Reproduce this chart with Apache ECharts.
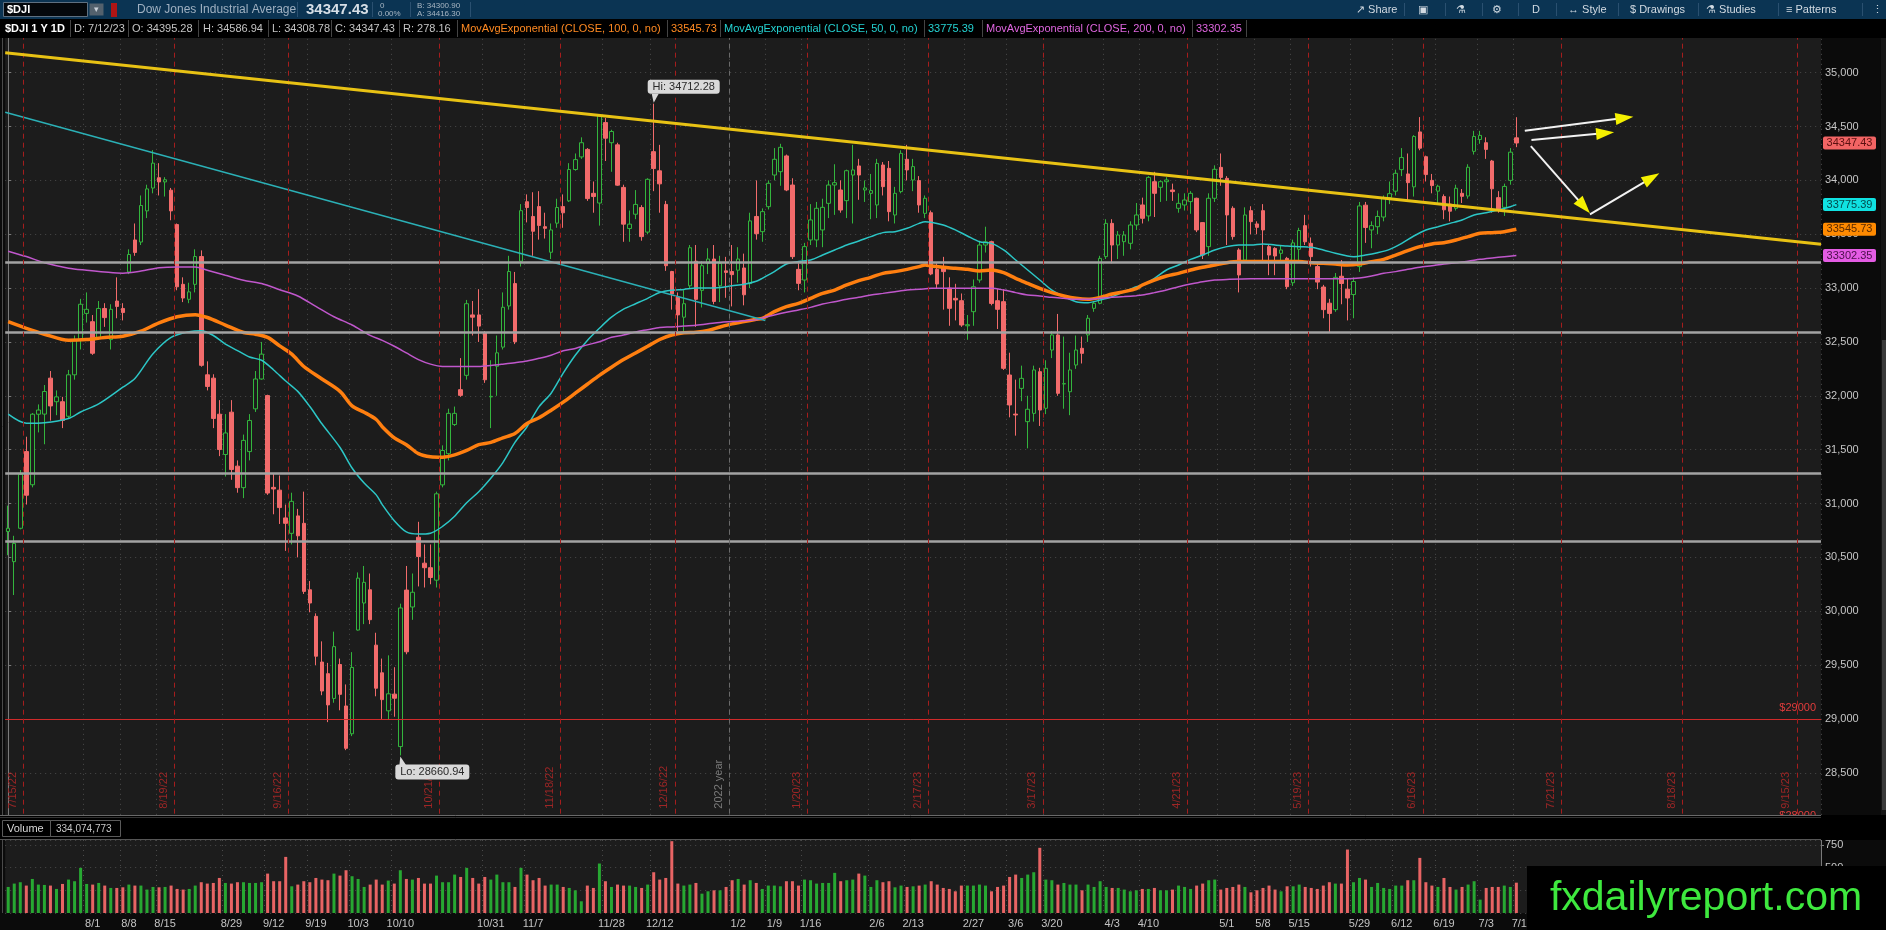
<!DOCTYPE html>
<html>
<head>
<meta charset="utf-8">
<title>$DJI 1 Y 1D</title>
<script src="https://cdn.jsdelivr.net/npm/echarts@6/dist/echarts.min.js"></script>
<style>
html, body { margin: 0; padding: 0; background: #0b0b0b; }
#chart { width: 1886px; height: 930px; }
</style>
</head>
<body>
<div id="chart"></div>
<script>
// daily candles 7/13/22 .. 7/12/23
var opens = [30740,30460,30770,31482,31174,31829,31830,32164,31945,31945,
31810,32195,32523,32765,32688,32541,32811,32522,32880,32811,
33150,33447,33428,33717,33929,34025,33986,33909,33590,33035,
32896,33035,33293,32195,32164,31829,31455,31848,31347,31147,
31482,31879,32156,32002,31150,31124,30866,30723,30885,30816,
30199,29952,29528,29420,29190,29505,29120,28862,29825,30076,
30199,29685,29428,29075,29230,28743,30196,30039,30687,30446,
30404,30288,31173,31463,31733,32057,32190,32751,32751,32585,
31990,32274,32452,32834,33042,33250,33802,33665,33757,33570,
33333,33603,33757,33810,34101,34218,34288,33880,33790,34537,
34350,34330,33935,33553,33686,33748,33520,34267,34089,33777,
33154,32917,32730,33021,33250,32979,33229,33270,33021,33160,
33154,33166,33187,33042,33665,33524,33756,34050,34081,34227,
33957,33174,33075,33447,33447,33540,33787,33957,33911,33812,
34050,34134,33911,33880,33772,34143,34112,33679,33896,34196,
34004,33998,33694,33700,33174,33199,33000,32905,32883,32650,
32781,33075,33400,33431,32883,32874,32193,31830,32069,31760,
31837,32224,31884,32425,32565,32110,32038,32286,32441,32565,
32812,32859,33292,33601,33400,33431,33416,33586,33772,33670,
33988,33936,33988,33911,33741,33772,33803,33834,33608,33385,
33834,34121,34019,33741,33354,33261,33719,33596,33719,33385,
33369,33323,33276,33050,33360,33580,33416,33200,33010,32860,
32800,33110,32990,32940,33200,33770,33540,33570,33660,33840,
33900,34100,34060,33940,34450,34220,34000,33900,33850,33780,
33740,33880,33855,34270,34380,34350,34180,33840,33750,34000,
34395.28];

var closes = [30770,30630,31270,31077,31829,31868,32040,31906,31990,31771,
32195,32523,32850,32803,32395,32811,32726,32803,32830,32773,
33312,33331,33767,33921,34160,33986,34006,33717,33012,32908,
32965,33293,32283,32087,31790,31501,31655,31316,31147,31586,
31771,32156,32387,31097,31135,30962,30816,31020,30700,30184,
30076,29582,29259,29130,29671,29228,28727,29478,30307,30268,
29921,29285,29179,29233,29192,30030,29623,30176,30508,30404,
30313,31090,31492,31837,31837,32004,32855,32730,32647,32149,
31995,32399,32822,33154,32502,33719,33748,33528,33582,33555,
33540,33748,33699,34101,34193,34350,33831,33850,34600,34392,
34454,33956,33594,33594,33777,33478,34010,34110,33968,33208,
32946,32751,32855,33375,32896,33208,33270,32876,33229,33146,
33125,33270,32938,33624,33505,33710,33973,34196,34307,33911,
33292,33044,33385,33633,33741,33750,33957,33979,33725,34090,
34097,34050,33930,33905,34158,33942,33710,33880,34251,34097,
34128,33772,33834,33131,33038,33153,32812,32890,32657,32660,
33013,33400,33430,32858,32803,32255,31915,31822,32162,31875,
32240,31868,32255,32565,32023,32113,32240,32425,32394,32720,
32859,33276,33601,33400,33493,33493,33586,33679,33648,34028,
33880,33988,34004,33896,33787,33818,33880,33540,33307,33834,
34103,34028,33679,33478,33122,33679,33617,33564,33540,33307,
33298,33354,33013,33420,33535,33430,33292,33056,32800,32765,
33100,33043,32908,33061,33763,33563,33580,33665,33834,33877,
34066,34212,33979,34408,34299,34054,33952,33946,33727,33714,
33927,33852,34122,34408,34418,34288,33922,33735,33944,34262,
34347.43];

var lows = [30520,30150,30760,30990,31150,31660,31550,31770,31820,31700,
31790,32150,32430,32680,32380,32520,32640,32430,32720,32700,
33130,33300,33400,33650,33880,33860,33850,33630,32980,32870,
32860,32960,32270,32050,31700,31440,31250,31220,31100,31050,
31400,31850,32150,31080,30900,30810,30560,30620,30500,30160,
29990,29500,29220,28970,29150,29080,28710,28840,29820,29880,
29880,29210,29000,28990,29020,28660.94,29600,29920,30230,30220,
30250,30220,31150,31400,31720,31990,32150,32560,32500,32120,
31700,32000,32430,32800,32480,33200,33610,33300,33450,33460,
33270,33560,33560,33800,34090,34200,33810,33700,33580,34180,
34080,33950,33430,33430,33640,33440,33500,33900,33700,33160,
32800,32600,32580,33000,32640,32820,33130,32850,32870,32910,
32830,33050,32840,33000,33450,33430,33730,34000,33950,33900,
33270,32980,32960,33400,33380,33380,33650,33680,33700,33650,
33600,33820,33800,33640,33650,33860,33620,33600,33880,34000,
33900,33700,33650,33120,33000,32800,32650,32700,32640,32520,
32650,33050,33330,32840,32620,32240,31800,31630,31950,31512,
31760,31720,31830,32350,32000,31880,31820,32250,32300,32500,
32780,32850,33270,33230,33270,33300,33360,33540,33600,33620,
33660,33800,33810,33810,33700,33720,33690,33520,33270,33300,
33800,33950,33400,33450,32960,33240,33500,33500,33240,33120,
33120,33250,32990,33020,33250,33400,33200,32990,32720,32590,
32780,32850,32700,32720,33150,33420,33370,33500,33620,33780,
33860,34040,33800,33850,34280,33990,33880,33780,33640,33620,
33720,33790,33830,34240,34340,34200,33700,33700,33670,33960,
34308.78];

var highs = [30980,30700,31310,31620,31840,31920,32100,32230,32050,31990,
32240,32560,32900,32960,32750,32880,32860,32850,33100,32860,
33360,33600,33860,33960,34281,34160,34030,33930,33600,33100,
33050,33360,33350,32320,32200,31960,31830,31960,31400,31640,
31830,32230,32500,32010,31280,31260,30990,31100,30950,31110,
30280,29980,29720,29520,29810,29560,29320,29620,30360,30420,
30350,29800,29560,29590,29480,30070,30420,30350,30830,30620,
30620,31110,31540,31880,31900,32350,32890,32880,32990,32600,
32330,32560,32960,33300,33150,33780,33870,33890,33900,33700,
33600,33830,33870,34160,34250,34400,34300,33990,34610,34580,
34470,34350,33960,33720,33910,33770,34020,34712.28,34330,33810,
33160,32960,32980,33400,33400,33250,33370,33400,33300,33290,
33400,33380,33320,33700,34000,33740,34000,34300,34340,34240,
34020,33230,33420,33780,33800,33830,34000,34150,34000,34100,
34330,34200,34000,34060,34200,34170,34180,33940,34280,34330,
34200,34040,33860,33720,33230,33290,33100,33040,32950,32750,
33080,33440,33570,33440,32990,32990,32400,32150,32280,32000,
32280,32260,32330,32600,32760,32550,32400,32560,32550,32750,
32880,33300,33640,33640,33530,33530,33620,33790,33840,34040,
34080,34000,34030,33970,33880,33880,33900,33840,33610,33880,
34140,34250,34040,33760,33370,33750,33760,33620,33780,33400,
33380,33400,33290,33450,33560,33680,33470,33230,33030,32900,
33140,33260,33090,33100,33800,33800,33620,33720,33860,33990,
34100,34300,34250,34420,34588,34230,34060,33960,33870,33850,
33960,33920,34150,34460,34460,34400,34190,33900,33970,34300,
34586.94];

// volume, millions of shares
var volumes = [287,324,339,302,375,313,309,302,265,320,
368,350,497,320,313,331,302,276,276,283,
313,302,302,258,287,283,287,302,265,258,
265,302,339,324,331,386,331,324,339,339,
331,331,339,434,350,350,618,294,313,350,
339,386,368,361,434,412,471,405,375,287,
313,368,313,357,324,471,375,368,386,324,
324,412,339,339,423,397,497,386,324,397,
368,423,339,339,287,497,423,361,386,302,
313,313,287,276,250,129,302,276,545,350,
287,313,302,302,287,276,313,449,368,386,
791,324,302,313,331,213,239,250,250,287,
361,375,313,361,331,265,302,302,294,350,
350,302,368,361,324,331,331,442,350,361,
368,434,412,287,361,339,350,283,302,287,
294,302,313,350,313,276,265,239,302,302,
302,313,302,239,287,302,397,423,386,423,
449,718,368,361,313,331,313,313,250,313,
287,350,287,276,276,258,239,250,265,265,
276,250,250,258,302,287,265,302,324,361,
368,258,276,287,313,287,228,250,276,302,
258,239,294,294,313,287,276,265,302,339,
324,324,699,339,386,368,287,331,276,265,
302,302,361,361,607,339,302,287,386,287,
258,287,313,350,147,276,287,287,302,287,
334];

// moving averages as drawn, [bar index, value]
var ema50 = [[0,31829],[3,31745],[6,31750],[10,31790],[12,31850],[15,31925],[19,32080],[21,32160],[24,32390],[27,32542],[30,32595],[32,32605],[34,32560],[36,32480],[38,32420],[40,32360],[42,32330],[44,32240],[46,32137],[48,32041],[50,31900],[52,31740],[55,31520],[57,31330],[59,31190],[61,31080],[62,30990],[64,30840],[66,30736],[68,30716],[70,30724],[72,30787],[74,30882],[76,31007],[78,31110],[80,31235],[82,31380],[84,31567],[86,31713],[88,31900],[90,32024],[92,32211],[94,32377],[96,32514],[98,32627],[100,32730],[102,32805],[104,32855],[106,32905],[108,32959],[110,32980],[112,32988],[114,33000],[116,33000],[118,33005],[120,33021],[122,33035],[124,33063],[125,33091],[127,33153],[129,33224],[131,33246],[133,33261],[135,33307],[137,33354],[139,33400],[141,33437],[143,33478],[145,33515],[147,33524],[149,33555],[151,33601],[152,33617],[153,33612],[155,33586],[157,33540],[159,33484],[161,33431],[163,33415],[165,33354],[167,33261],[169,33168],[171,33075],[173,32982],[175,32921],[177,32874],[179,32865],[181,32889],[183,32920],[185,32967],[187,33013],[188,33029],[190,33091],[192,33168],[194,33215],[196,33267],[198,33307],[200,33354],[202,33385],[204,33400],[206,33400],[208,33410],[210,33400],[212,33391],[214,33385],[216,33379],[218,33354],[220,33323],[222,33298],[223,33292],[225,33307],[227,33329],[229,33360],[231,33416],[233,33484],[235,33540],[237,33570],[239,33601],[241,33632],[243,33679],[245,33700],[247,33725],[249,33756],[250,33775.39]];
var ema100 = [[0,32688],[3,32626],[6,32572],[10,32515],[13,32522],[16,32542],[19,32553],[22,32600],[25,32677],[28,32734],[31,32753],[33,32727],[36,32657],[39,32588],[41,32572],[43,32542],[45,32464],[47,32387],[49,32272],[52,32156],[55,32041],[57,31906],[59,31848],[61,31780],[62,31713],[64,31609],[66,31546],[68,31463],[70,31434],[72,31430],[74,31451],[76,31493],[78,31546],[80,31567],[82,31609],[84,31650],[86,31742],[88,31796],[90,31866],[92,31941],[94,32024],[96,32107],[98,32190],[100,32265],[102,32336],[104,32398],[106,32460],[108,32523],[110,32564],[112,32585],[114,32590],[116,32606],[118,32639],[120,32668],[122,32689],[124,32710],[125,32719],[127,32781],[129,32828],[131,32858],[133,32905],[135,32951],[137,32982],[139,33029],[141,33069],[143,33100],[145,33137],[147,33153],[149,33174],[151,33199],[152,33215],[153,33205],[155,33193],[157,33184],[159,33174],[161,33159],[163,33168],[165,33143],[167,33091],[169,33044],[171,32998],[173,32958],[175,32927],[177,32905],[179,32896],[181,32914],[183,32945],[185,32967],[187,32995],[188,33029],[190,33075],[192,33112],[194,33137],[196,33168],[198,33193],[200,33215],[202,33236],[204,33246],[206,33246],[208,33246],[210,33246],[212,33246],[214,33246],[216,33236],[218,33230],[220,33224],[222,33215],[224,33224],[226,33246],[228,33267],[230,33307],[232,33348],[234,33385],[236,33410],[238,33422],[240,33447],[242,33478],[244,33509],[246,33515],[248,33524],[250,33545.73]];
var ema200 = [[0,33343],[3,33293],[6,33235],[10,33185],[13,33166],[16,33150],[19,33139],[22,33158],[25,33189],[28,33197],[31,33197],[33,33166],[36,33119],[39,33073],[42,33042],[45,32985],[48,32927],[51,32831],[54,32734],[57,32657],[60,32561],[62,32515],[64,32460],[66,32398],[68,32336],[70,32294],[72,32273],[74,32273],[76,32273],[78,32273],[80,32282],[82,32294],[84,32307],[86,32323],[88,32348],[90,32377],[92,32419],[94,32440],[96,32473],[98,32502],[100,32543],[102,32564],[104,32593],[106,32614],[108,32635],[110,32639],[112,32647],[114,32656],[116,32668],[118,32681],[120,32689],[122,32697],[124,32705],[125,32722],[127,32750],[129,32775],[131,32797],[133,32821],[135,32852],[137,32874],[139,32896],[141,32914],[143,32936],[145,32951],[147,32967],[149,32982],[151,32989],[153,32998],[157,32998],[161,32998],[163,32998],[165,32982],[167,32958],[169,32936],[171,32927],[173,32914],[175,32905],[177,32896],[179,32896],[181,32905],[183,32914],[185,32921],[187,32930],[188,32936],[190,32958],[192,32982],[194,33013],[196,33038],[198,33060],[200,33075],[202,33081],[206,33087],[222,33087],[224,33094],[226,33112],[228,33137],[230,33153],[232,33174],[234,33193],[236,33208],[238,33224],[240,33236],[242,33249],[244,33267],[246,33280],[248,33292],[250,33302.35]];

// user drawings, [bar index, price]
var yellowTrend = [[-0.5, 35185], [300.5, 33408]];
var cyanTrend = [[-0.5, 34633], [125.5, 32700]];
var grayLevels = [33242, 32592, 31278, 30654];
var arrows = [[251.4, 34461, 269.4, 34591], [252.5, 34375, 266.2, 34447], [252.4, 34319, 262.2, 33694], [262.2, 33685, 273.7, 34066]];
var tagValues = [34347.43, 33775.39, 33545.73, 33302.35];

// calendar
var holidays = ['9/5/22','11/24/22','12/26/22','1/2/23','1/16/23','2/20/23','4/7/23','5/29/23','6/19/23','7/4/23','9/4/23'];
var futureDays = 50;
// week labels and the bar they sit under
var tickBars = [14,20,26,37,44,51,58,65,80,87,100,108,121,127,133,144,150,160,167,173,183,189,202,208,214,224,231,238,245,251];
var tickLabels = ['8/1','8/8','8/15','8/29','9/12','9/19','10/3','10/10','10/31','11/7','11/28','12/12','1/2','1/9','1/16','2/6','2/13','2/27','3/6','3/20','4/3','4/10','5/1','5/8','5/15','5/29','6/12','6/19','7/3','7/10'];
var expiryDates = ['7/15/22','8/19/22','9/16/22','10/21/22','11/18/22','12/16/22','1/20/23','2/17/23','3/17/23','4/21/23','5/19/23','6/16/23','7/21/23','8/18/23','9/15/23'];

var dates = [];
(function () {
    var t = Date.UTC(2022, 6, 13);
    while (dates.length < opens.length + futureDays) {
        var d = new Date(t);
        var wd = d.getUTCDay();
        var s = (d.getUTCMonth() + 1) + '/' + d.getUTCDate() + '/' + String(d.getUTCFullYear()).slice(2);
        if (wd !== 0 && wd !== 6 && holidays.indexOf(s) < 0) dates.push(s);
        t += 86400000;
    }
})();
var nCat = dates.length;

var tickMap = {};
tickBars.forEach(function (b, k) { tickMap[b] = tickLabels[k]; });
function isTick(index) { return tickMap[index] !== undefined; }
function isGridLine(index) { return tickMap[index + 1] !== undefined; }

var GREEN = '#33b53d', RED = '#f26b6b';
var FONT = 'Liberation Sans, Arial, sans-serif';

var candles = [], volBars = [];
for (var i = 0; i < opens.length; i++) {
    candles.push([opens[i], closes[i], lows[i], highs[i]]);
    volBars.push({ value: volumes[i], itemStyle: { color: closes[i] >= opens[i] ? '#27a832' : '#e86464' } });
}

// horizontal and vertical drawings
var marks = [];
grayLevels.forEach(function (v) {
    marks.push({ yAxis: v, lineStyle: { color: '#a3a3a3', width: 2.5, type: 'solid' }, label: { show: false } });
});
marks.push({ yAxis: 29000, lineStyle: { color: '#d02a2a', width: 1, type: 'solid' },
    label: { show: true, position: 'insideEndTop', formatter: '$29000', color: '#e23c3c', fontSize: 11, fontFamily: FONT } });
marks.push({ yAxis: 28000, lineStyle: { color: '#d02a2a', width: 1, type: 'solid' },
    label: { show: true, position: 'insideEndTop', formatter: '$28000', color: '#e23c3c', fontSize: 11, fontFamily: FONT } });
expiryDates.forEach(function (d) {
    var x = dates.indexOf(d) + 0.5;
    marks.push([
        { coord: [x, 28120], lineStyle: { color: '#a51d1d', width: 1, type: [5, 4] },
          label: { show: true, position: 'insideStartTop', formatter: d, color: '#9e2626', fontSize: 11, fontFamily: FONT } },
        { coord: [x, 35500] }
    ]);
});
(function () {
    var x = dates.indexOf('1/3/23') - 0.5;
    marks.push([
        { coord: [x, 28120], lineStyle: { color: '#6a6a6a', width: 1, type: [5, 4] },
          label: { show: true, position: 'insideStartTop', formatter: '2022 year', color: '#7a7a7a', fontSize: 11, fontFamily: FONT } },
        { coord: [x, 35500] }
    ]);
})();

var dotted = { color: '#4a4a4a', type: [1, 4], width: 1 };

var option = {
    animation: false,
    backgroundColor: '#0b0b0b',
    textStyle: { fontFamily: FONT },
    grid: [
        { left: 5.2, width: 1815.8, top: 18.85, height: 807.75, show: true, backgroundColor: '#1c1c1c', borderWidth: 0, outerBoundsMode: 'none' },
        { left: 5.2, width: 1815.8, top: 840, height: 73, show: true, backgroundColor: '#1c1c1c', borderWidth: 0, outerBoundsMode: 'none' }
    ],
    xAxis: [
        { type: 'category', gridIndex: 0, data: dates, boundaryGap: true,
          axisLine: { show: false }, axisTick: { show: false }, axisLabel: { show: false },
          splitLine: { show: true, interval: function (idx) { return isGridLine(idx); }, lineStyle: dotted } },
        { type: 'value', gridIndex: 0, min: -0.5, max: nCat - 0.5, show: false, splitLine: { show: false } },
        { type: 'category', gridIndex: 1, data: dates, boundaryGap: true,
          axisLine: { show: false }, axisTick: { show: false },
          axisLabel: { color: '#c4c4c4', fontSize: 11, margin: 5, fontFamily: FONT,
              interval: function (idx) { return isTick(idx); },
              formatter: function (v, idx) { return tickMap[idx] || ''; } },
          splitLine: { show: true, interval: function (idx) { return isGridLine(idx); }, lineStyle: dotted } }
    ],
    yAxis: [
        { type: 'value', gridIndex: 0, position: 'right', min: 28000, max: 35500, interval: 500,
          axisLine: { show: true, lineStyle: { color: '#7a7a7a' } },
          axisTick: { show: true, length: 3, lineStyle: { color: '#7a7a7a' } },
          axisLabel: { color: '#c6c6c6', fontSize: 11, margin: 4, fontFamily: FONT },
          splitLine: { show: true, lineStyle: dotted } },
        { type: 'value', gridIndex: 1, position: 'right', min: 0, max: 804, interval: 250,
          axisLine: { show: true, lineStyle: { color: '#7a7a7a' } },
          axisTick: { show: true, length: 3, lineStyle: { color: '#7a7a7a' } },
          axisLabel: { color: '#c6c6c6', fontSize: 11, margin: 4, fontFamily: FONT,
              formatter: function (v) { return v === 0 ? '' : String(v); } },
          splitLine: { show: true, lineStyle: dotted } }
    ],
    series: [
        { name: '$DJI', type: 'candlestick', xAxisIndex: 0, yAxisIndex: 0, data: candles, barWidth: 4, z: 2,
          itemStyle: { color: '#1c1c1c', color0: RED, borderColor: GREEN, borderColor0: RED, borderWidth: 1 } },
        { name: 'EMA50', type: 'line', xAxisIndex: 1, yAxisIndex: 0, data: ema50, showSymbol: false, smooth: 0.3, z: 3,
          lineStyle: { color: '#2cc6c6', width: 1.5 } },
        { name: 'EMA100', type: 'line', xAxisIndex: 1, yAxisIndex: 0, data: ema100, showSymbol: false, smooth: 0.3, z: 3,
          lineStyle: { color: '#ff7f10', width: 3.5 } },
        { name: 'EMA200', type: 'line', xAxisIndex: 1, yAxisIndex: 0, data: ema200, showSymbol: false, smooth: 0.3, z: 3,
          lineStyle: { color: '#c057cc', width: 1.5 } },
        { name: 'cyanTrend', type: 'line', xAxisIndex: 1, yAxisIndex: 0, data: cyanTrend, showSymbol: false, z: 4,
          lineStyle: { color: '#2bb0b6', width: 1.5 } },
        { name: 'yellowTrend', type: 'line', xAxisIndex: 1, yAxisIndex: 0, data: yellowTrend, showSymbol: false, z: 5,
          lineStyle: { color: '#e8c214', width: 3 },
          markLine: { silent: true, symbol: ['none', 'none'], animation: false, data: marks } },
        { name: 'Volume', type: 'bar', xAxisIndex: 2, yAxisIndex: 1, data: volBars, barWidth: 3 }
    ]
};

var chart = echarts.init(document.getElementById('chart'));
chart.setOption(option);

function px(i, v) { return chart.convertToPixel({ seriesIndex: 1 }, [i, v]); }

function txt(x, y, s, fill, font, align, z) {
    return { type: 'text', x: x, y: y, z: z || 102, silent: true,
        style: { text: s, fill: fill, font: font, align: align || 'left', verticalAlign: 'middle' } };
}
function rect(x, y, w, h, fill, stroke, z, r) {
    return { type: 'rect', z: z || 101, silent: true, shape: { x: x, y: y, width: w, height: h, r: r || 0 },
        style: { fill: fill || 'none', stroke: stroke || null, lineWidth: 1 } };
}
function vline(x, y1, y2, c, z) {
    return { type: 'line', z: z || 102, silent: true, shape: { x1: x, y1: y1, x2: x, y2: y2 }, style: { stroke: c, lineWidth: 1 } };
}
function hline(x1, x2, y, c, z) {
    return { type: 'line', z: z || 102, silent: true, shape: { x1: x1, y1: y, x2: x2, y2: y }, style: { stroke: c, lineWidth: 1 } };
}

var g = [];
var f11 = '11px ' + FONT, f12 = '12px ' + FONT;

// toolbar
g.push(rect(0, 0, 1886, 19, '#0b3453', null, 100));
g.push(rect(3.5, 2.5, 84, 14, '#04080c', '#5e7081'));
g.push(txt(7, 10, '$DJI', '#ffffff', 'bold 11px ' + FONT));
g.push(rect(89.5, 3.5, 14, 12, '#53616d', null));
g.push(txt(96.5, 10, '\u25BE', '#c8d0d8', '9px ' + FONT, 'center'));
g.push(rect(111, 3, 6, 14, '#b01515', null));
g.push(txt(137, 10, 'Dow Jones Industrial Average', '#9fb0c1', f12));
g.push(vline(297.5, 2, 17, '#2a5070'));
g.push(txt(306, 10, '34347.43', '#d6dee6', 'bold 15px ' + FONT));
g.push(vline(372.5, 2, 17, '#2a5070'));
g.push(txt(380, 5.5, '0', '#a8b6c3', '8px ' + FONT));
g.push(txt(378, 14, '0.00%', '#a8b6c3', '8px ' + FONT));
g.push(vline(410.5, 2, 17, '#2a5070'));
g.push(txt(417, 5.5, 'B: 34300.90', '#a8b6c3', '8px ' + FONT));
g.push(txt(417, 14, 'A: 34416.30', '#a8b6c3', '8px ' + FONT));
g.push(vline(470.5, 2, 17, '#2a5070'));
[['\u2197 Share', 1356], ['\u25A3', 1418], ['\u2697', 1456], ['\u2699', 1492], ['D', 1532], ['\u2194 Style', 1568],
 ['$ Drawings', 1630], ['\u2697 Studies', 1706], ['\u2261 Patterns', 1786], ['\u22EE', 1872]].forEach(function (t) {
    g.push(txt(t[1], 10, t[0], '#d2dae2', f11));
});
[1404, 1445, 1482, 1518, 1556, 1618, 1698, 1778, 1862].forEach(function (x) { g.push(vline(x + 0.5, 3, 16, '#2a5070')); });

// study line
g.push(rect(0, 19, 1886, 19, '#000000', null, 100));
var info = [
    ['$DJI 1 Y 1D', 5, '#ffffff', 'bold 11px ' + FONT, 70],
    ['D: 7/12/23', 74, '#c4c4c4', f11, 128],
    ['O: 34395.28', 132, '#c4c4c4', f11, 198],
    ['H: 34586.94', 203, '#c4c4c4', f11, 268],
    ['L: 34308.78', 272, '#c4c4c4', f11, 331],
    ['C: 34347.43', 335, '#c4c4c4', f11, 399],
    ['R: 278.16', 403, '#c4c4c4', f11, 457],
    ['MovAvgExponential (CLOSE, 100, 0, no)', 461, '#ff8a22', f11, 667],
    ['33545.73', 671, '#ff8a22', f11, 720],
    ['MovAvgExponential (CLOSE, 50, 0, no)', 724, '#24d2d2', f11, 924],
    ['33775.39', 928, '#24d2d2', f11, 982],
    ['MovAvgExponential (CLOSE, 200, 0, no)', 986, '#e066e0', f11, 1192],
    ['33302.35', 1196, '#e066e0', f11, 1246]
];
info.forEach(function (t) {
    g.push(txt(t[1], 28.5, t[0], t[2], t[3]));
    g.push(vline(t[4] + 0.5, 20, 37, '#444444'));
});

// panel left borders
g.push(vline(2.5, 38, 815, '#4a4a4a', 50));
g.push(vline(2.5, 840, 913, '#4a4a4a', 50));

// volume header
g.push(rect(0, 815, 1886, 25, '#000000', null, 100));
g.push(hline(0, 1821, 815.5, '#6a6a6a'));
g.push(hline(0, 1821, 817.5, '#333333'));
g.push(rect(2.5, 820.5, 48, 16, null, '#5a5a5a'));
g.push(txt(7, 829, 'Volume', '#d8d8d8', f11));
g.push(rect(50.5, 820.5, 70, 16, null, '#5a5a5a'));
g.push(txt(56, 829, '334,074,773', '#c8c8c8', '10px ' + FONT));
g.push(hline(0, 1821, 839.5, '#555555'));

// right scrollbar
g.push(rect(1881, 38, 5, 777, '#161616', null, 100));
g.push(rect(1882, 340, 4, 470, '#3a3a3a', null, 101));

// last-value tags on the price axis
var tagStyle = [['#f26464', '#5a1010'], ['#10e2e2', '#044a4c'], ['#ff8a00', '#5a2a00'], ['#e45ce4', '#4a0f4a']];
tagValues.forEach(function (v, k) {
    var y = px(0, v)[1];
    g.push(rect(1823, y - 6.5, 53, 13, tagStyle[k][0], null, 60, 2));
    g.push(txt(1849.5, y, v.toFixed(2), tagStyle[k][1], f11, 'center', 61));
});

// high / low callouts
var hiIdx = 0, loIdx = 0;
for (var k = 1; k < highs.length; k++) {
    if (highs[k] > highs[hiIdx]) hiIdx = k;
    if (lows[k] < lows[loIdx]) loIdx = k;
}
var hp = px(hiIdx, highs[hiIdx]);
g.push({ type: 'polygon', z: 60, silent: true, shape: { points: [[hp[0] - 2, hp[1] - 10], [hp[0] + 5, hp[1] - 10], [hp[0], hp[1] - 1]] }, style: { fill: '#d9d9d9' } });
g.push(rect(hp[0] - 6, hp[1] - 24, 72, 14, '#d9d9d9', null, 60, 3));
g.push(txt(hp[0] + 30, hp[1] - 17, 'Hi: ' + highs[hiIdx].toFixed(2), '#2a2a2a', f11, 'center', 61));
var lp = px(loIdx, lows[loIdx]);
g.push({ type: 'polygon', z: 60, silent: true, shape: { points: [[lp[0] - 1, lp[1] + 10], [lp[0] + 6, lp[1] + 10], [lp[0], lp[1] + 1]] }, style: { fill: '#d9d9d9' } });
g.push(rect(lp[0] - 5, lp[1] + 9, 74, 15, '#d9d9d9', null, 60, 3));
g.push(txt(lp[0] + 32, lp[1] + 16.5, 'Lo: ' + lows[loIdx].toFixed(2), '#2a2a2a', f11, 'center', 61));

// arrows
arrows.forEach(function (a) {
    var p0 = px(a[0], a[1]), p1 = px(a[2], a[3]);
    var dx = p1[0] - p0[0], dy = p1[1] - p0[1], len = Math.sqrt(dx * dx + dy * dy);
    var ux = dx / len, uy = dy / len, L = 18, W = 6;
    var bx = p1[0] - L * ux, by = p1[1] - L * uy;
    g.push({ type: 'line', z: 55, silent: true, shape: { x1: p0[0], y1: p0[1], x2: bx + 4 * ux, y2: by + 4 * uy }, style: { stroke: '#f2f2f2', lineWidth: 2 } });
    g.push({ type: 'polygon', z: 56, silent: true,
        shape: { points: [[p1[0], p1[1]], [bx - W * uy, by + W * ux], [bx + W * uy, by - W * ux]] },
        style: { fill: '#f4f000' } });
});

// watermark
g.push(rect(1527, 866, 359, 64, '#000000', null, 110));
g.push(txt(1706, 899, 'fxdailyreport.com', '#3ee83e', '41px ' + FONT, 'center', 111));

chart.setOption({ graphic: g });
</script>
</body>
</html>
